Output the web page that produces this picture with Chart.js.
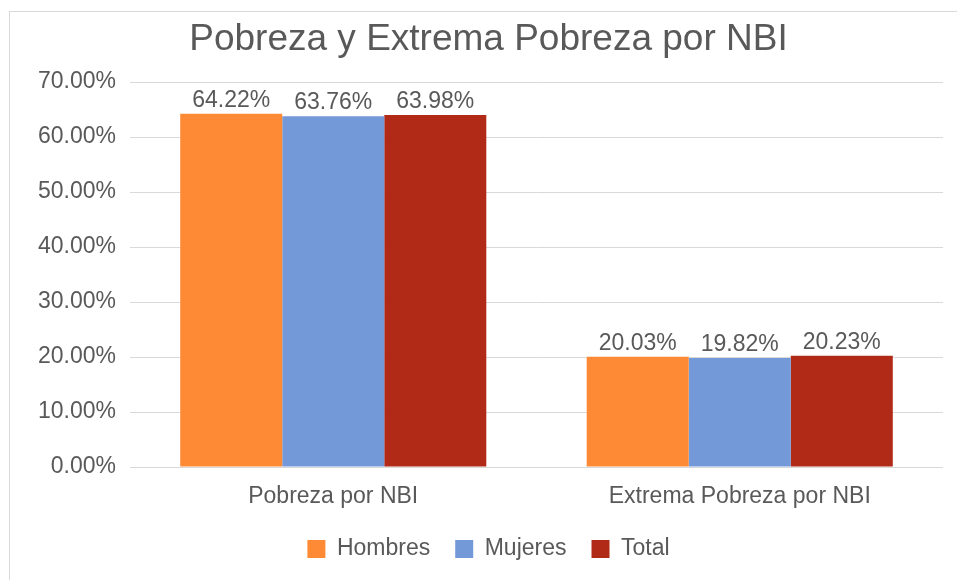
<!DOCTYPE html>
<html lang="es">
<head>
  <meta charset="UTF-8" />
  <title>Pobreza y Extrema Pobreza por NBI</title>
  <script src="https://cdn.jsdelivr.net/npm/chart.js"></script>
  <style>
    body {
      margin: 0;
      background: #fff;
      font-family: 'Liberation Sans', Arial, sans-serif;
    }
    .wrap {
      position: relative;
      width: 957px;
      height: 580px;
    }
    .frame {
      position: absolute;
      left: 9px;
      top: 11px;
      right: -5px;
      bottom: -5px;
      border-top: 1px solid #d9d9d9;
      border-left: 1px solid #d9d9d9;
    }
    canvas {
      position: absolute;
      left: 0;
      top: 0;
    }
  </style>
</head>
<body>
  <div class="wrap">
    <div class="frame"></div>
    <canvas id="chart" width="957" height="580"></canvas>
  </div>

  <script>
    const categories = ["Pobreza por NBI", "Extrema Pobreza por NBI"];
    const hombres = [64.22, 20.03];
    const mujeres = [63.76, 19.82];
    const total = [63.98, 20.23];
    const yTicks = [0, 10, 20, 30, 40, 50, 60, 70];

    const textColor = "#595959";
    const font = "'Liberation Sans', Arial, sans-serif";
    const padLeft = 34;

    // simple value labels on top of each bar
    const barLabels = {
      id: "barLabels",
      afterDatasetsDraw(chart) {
        const ctx = chart.ctx;
        ctx.save();
        ctx.font = "23px " + font;
        ctx.fillStyle = textColor;
        ctx.textAlign = "center";
        ctx.textBaseline = "bottom";
        chart.data.datasets.forEach((ds, i) => {
          chart.getDatasetMeta(i).data.forEach((bar, j) => {
            ctx.fillText(ds.data[j].toFixed(2) + "%", bar.x, bar.y - 2);
          });
        });
        ctx.restore();
      }
    };

    new Chart(document.getElementById("chart"), {
      type: "bar",
      data: {
        labels: categories,
        datasets: [
          { label: "Hombres", data: hombres, backgroundColor: "#FF8A36" },
          { label: "Mujeres", data: mujeres, backgroundColor: "#7499D9" },
          { label: "Total", data: total, backgroundColor: "#B12A17" }
        ]
      },
      options: {
        responsive: false,
        animation: false,
        layout: { padding: { left: padLeft, right: 14, top: 0, bottom: 9.5 } },
        datasets: { bar: { categoryPercentage: 0.753, barPercentage: 1 } },
        plugins: {
          title: {
            display: true,
            text: "Pobreza y Extrema Pobreza por NBI",
            color: textColor,
            font: { family: font, size: 37, weight: "normal" },
            padding: { top: 18, bottom: 19.6 }
          },
          legend: {
            position: "bottom",
            labels: {
              color: textColor,
              font: { family: font, size: 23 },
              boxWidth: 18,
              boxHeight: 18,
              padding: 25
            }
          },
          tooltip: { enabled: false }
        },
        scales: {
          x: {
            grid: { display: false, drawTicks: false },
            border: { display: false },
            ticks: { color: textColor, font: { family: font, size: 23 }, padding: 16 },
            afterFit(scale) { scale.height = 45.5; }
          },
          y: {
            min: 0,
            max: 70,
            afterBuildTicks(scale) { scale.ticks = yTicks.map(v => ({ value: v })); },
            grid: { color: "#d9d9d9", drawTicks: false },
            border: { display: false },
            ticks: {
              color: textColor,
              font: { family: font, size: 23 },
              padding: 14,
              callback: v => v.toFixed(2) + "%"
            },
            afterFit(scale) { scale.width = 130 - padLeft; }
          }
        }
      },
      plugins: [barLabels]
    });
  </script>
</body>
</html>
